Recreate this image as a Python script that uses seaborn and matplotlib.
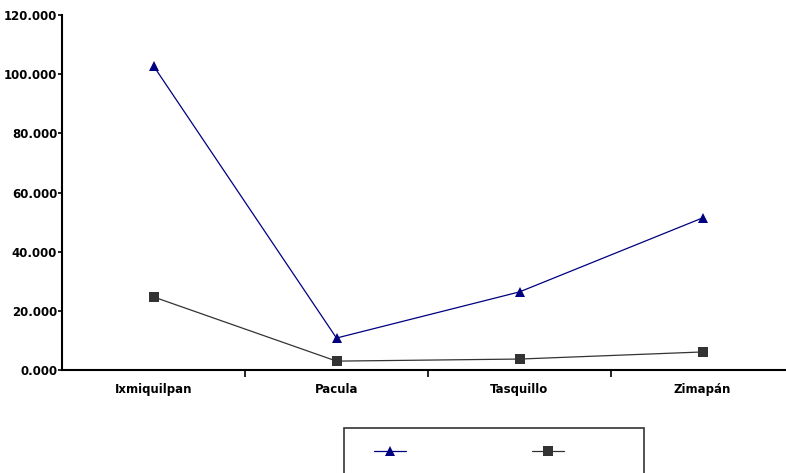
import matplotlib
matplotlib.use("Agg")
import matplotlib.pyplot as plt
import seaborn as sns
import pandas as pd
from matplotlib.ticker import FixedLocator, FuncFormatter
from matplotlib.lines import Line2D
from matplotlib.legend_handler import HandlerLine2D

categories = ["Ixmiquilpan", "Pacula", "Tasquillo", "Zimapán"]
serie_1 = [102.8, 10.8, 26.4, 51.4]
serie_2 = [24.7, 3.0, 3.7, 6.1]
series_names = ["Serie 1", "Serie 2"]
yticks = [0, 20, 40, 60, 80, 100, 120]

sns.set_theme(style="white")
plt.rcParams["font.family"] = ["DejaVu Sans"]

df = pd.DataFrame({
    "cat": categories * 2,
    "x": list(range(len(categories))) * 2,
    "val": serie_1 + serie_2,
    "serie": [series_names[0]] * len(categories) + [series_names[1]] * len(categories),
})

fig = plt.figure(figsize=(7.86, 4.73), dpi=100)
ax = fig.add_axes([62 / 786, 1 - 370 / 473, (794 - 62) / 786, 355 / 473])

palette = {series_names[0]: "#000080", series_names[1]: "#333333"}
markers = {series_names[0]: "^", series_names[1]: "s"}
sns.lineplot(data=df, x="x", y="val", hue="serie", style="serie", palette=palette,
             markers=markers, dashes=False, sort=False, ax=ax, linewidth=0.9,
             markersize=6.5, markeredgewidth=0, legend=False)

ax.set_xlim(-0.5, 3.5)
ax.set_ylim(0, 120)
ax.set_xlabel("")
ax.set_ylabel("")
for s in ["top", "right"]:
    ax.spines[s].set_visible(False)
for s in ["left", "bottom"]:
    ax.spines[s].set_color("black")
    ax.spines[s].set_linewidth(1.5)

ax.set_yticks(yticks)
ax.yaxis.set_major_formatter(FuncFormatter(lambda v, p: f"{v:.3f}"))
ax.tick_params(axis="y", left=True, length=3, width=1.2, color="black", pad=0.5,
               labelsize=8.5, labelcolor="black")
for t in ax.get_yticklabels():
    t.set_fontweight("bold")

ax.set_xticks(range(len(categories)))
ax.set_xticklabels(categories, fontweight="bold")
ax.xaxis.set_minor_locator(FixedLocator([0.5, 1.5, 2.5]))
ax.tick_params(axis="x", which="major", bottom=True, length=0, pad=9.5,
               labelsize=8.5, labelcolor="black")
ax.tick_params(axis="x", which="minor", bottom=True, length=5, width=1.2, color="black")
ax.grid(False)

fs = 10
px = fs * 100 / 72
h1 = Line2D([], [], color="#000080", marker="^", markersize=6.5, markeredgewidth=0, linewidth=0.9)
h2 = Line2D([], [], color="#333333", marker="s", markersize=6.5, markeredgewidth=0, linewidth=0.9)
hl = HandlerLine2D(xpad=13 / px)
top = 1 - 428 / 473
leg = fig.legend([h1, h2], ["", ""], ncol=2, loc="upper left",
                 bbox_to_anchor=(344 / 786, top - 0.2, 300 / 786, 0.2),
                 mode="expand", borderaxespad=0, fontsize=fs, borderpad=1.2,
                 handlelength=45 / px, handletextpad=63.3 / px, fancybox=False,
                 frameon=True, handler_map={Line2D: hl})
leg.get_frame().set_edgecolor("black")
leg.get_frame().set_linewidth(1.2)

fig.savefig("out.png", dpi=100)
